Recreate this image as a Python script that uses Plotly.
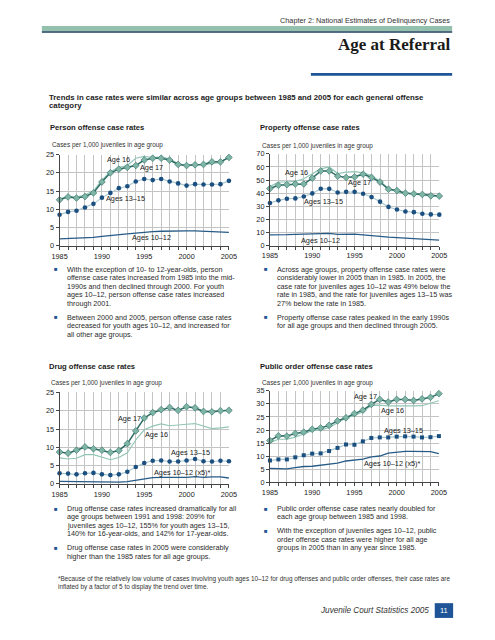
import plotly.graph_objects as go

W, H = 495, 640
years = list(range(1985, 2006))

# ---------------- data ----------------
person_17 = [12.6, 13.4, 13.1, 13.5, 14.5, 17.5, 20.0, 21.0, 21.5, 22.0, 23.5, 24.0, 24.0, 23.5, 22.3, 22.0, 22.2, 22.3, 23.0, 23.0, 24.2]
person_16 = [12.8, 13.6, 13.3, 14.0, 15.0, 18.0, 20.3, 21.5, 22.0, 24.0, 24.5, 24.2, 24.3, 23.8, 22.5, 22.0, 22.3, 22.2, 22.6, 22.8, 24.3]
person_1315 = [8.5, 9.3, 9.6, 10.5, 11.5, 13.2, 14.5, 15.8, 16.3, 17.6, 18.3, 18.0, 18.3, 17.6, 17.1, 16.5, 16.9, 16.8, 16.8, 16.9, 17.8]
person_1012 = [1.9, 1.95, 2.0, 2.1, 2.3, 2.6, 2.9, 3.1, 3.3, 3.5, 3.8, 3.9, 4.0, 4.1, 4.1, 4.1, 4.1, 4.0, 3.9, 3.9, 3.7]

property_17 = [43.5, 46.0, 46.5, 47.0, 47.0, 51.5, 57.0, 57.0, 53.0, 52.0, 52.5, 54.5, 52.0, 48.5, 43.0, 42.0, 40.0, 39.5, 39.0, 38.0, 37.8]
property_16 = [45.0, 48.5, 48.5, 49.0, 51.0, 55.0, 58.5, 60.0, 55.0, 56.0, 56.5, 55.5, 53.5, 49.0, 43.5, 41.0, 40.0, 39.5, 38.5, 38.0, 37.5]
property_1315 = [32.5, 34.5, 35.7, 36.0, 37.5, 39.8, 43.4, 43.3, 40.5, 41.0, 41.0, 39.5, 37.0, 33.5, 29.5, 27.5, 26.0, 25.5, 24.3, 23.8, 23.6]
property_1012 = [8.2, 8.1, 8.3, 8.5, 8.8, 9.1, 9.5, 9.3, 8.5, 8.8, 8.7, 8.2, 7.8, 7.0, 6.4, 6.0, 5.6, 5.2, 4.9, 4.5, 4.2]

drug_17 = [8.7, 8.4, 9.2, 10.1, 9.6, 9.2, 8.6, 9.1, 11.0, 14.5, 18.0, 19.5, 20.3, 20.9, 20.1, 21.1, 20.8, 19.8, 19.7, 20.0, 20.1]
drug_16 = [7.1, 6.8, 7.0, 8.0, 8.0, 7.3, 6.6, 7.2, 8.5, 12.0, 14.8, 15.8, 16.4, 15.9, 16.2, 16.3, 16.5, 15.8, 15.1, 15.3, 15.6]
drug_1315 = [2.9, 2.8, 2.6, 2.9, 3.0, 2.6, 2.4, 2.6, 3.3, 4.6, 5.7, 6.3, 6.4, 6.1, 6.1, 6.4, 6.8, 6.2, 6.1, 6.3, 6.2]
drug_1012x5 = [0.7, 0.65, 0.6, 0.6, 0.55, 0.5, 0.5, 0.5, 0.6, 1.0, 1.4, 1.7, 1.8, 1.8, 1.6, 1.8, 2.0, 1.8, 1.9, 1.9, 1.6]

public_17 = [16.0, 17.8, 17.7, 18.7, 19.2, 20.3, 20.8, 21.8, 23.5, 24.7, 26.3, 27.6, 29.8, 31.7, 30.7, 31.7, 31.7, 31.3, 31.9, 32.5, 33.9]
public_16 = [15.2, 16.5, 16.5, 17.3, 18.5, 19.8, 20.0, 21.0, 22.8, 24.6, 25.6, 27.0, 29.4, 29.5, 29.2, 29.2, 29.0, 29.2, 29.3, 30.2, 31.2]
public_1315 = [8.4, 8.8, 8.8, 9.6, 10.4, 11.0, 11.1, 12.0, 13.2, 14.5, 14.4, 15.7, 17.0, 17.2, 17.2, 17.5, 17.6, 17.5, 17.2, 17.3, 17.7]
public_1012x5 = [5.4, 5.4, 5.2, 5.7, 6.1, 6.2, 6.6, 7.0, 7.4, 8.2, 8.6, 8.9, 9.8, 10.1, 11.2, 11.5, 11.9, 11.9, 11.9, 11.8, 11.0]

series_names = ["Age 17", "Age 16", "Ages 13\u201315", "Ages 10\u201312"]

# ---------------- styles ----------------
FONT = "Liberation Sans, Arial, sans-serif"
TXT = "#222222"
C17 = "#2d6b65"
C17M = "#7fb5a5"
C16 = "#92c6b6"
C1315 = "#1b4f80"
C1315L = "#a5c6cf"
C1012 = "#275b87"
GRID = "#c4c4c4"
AX = "#444444"
BLUE = "#1f5596"

fig = go.Figure()

panels = [
    ("", [person_17, person_16, person_1315, person_1012], 25, 5, (53.3, 228.3), (152.7, 245.3),
     [("Age 16", 1992.0, 23.6), ("Age 17", 1995.8, 21.4), ("Ages 13\u201315", 1992.8, 13.1), ("Ages 10\u201312", 1995.8, 2.3)], "circle"),
    ("2", [property_17, property_16, property_1315, property_1012], 70, 10, (270.7, 445.7), (152.0, 245.0),
     [("Age 16", 1988.1, 55.7), ("Age 17", 1995.6, 47.9), ("Ages 13\u201315", 1991.3, 33.3), ("Ages 10\u201312", 1991.0, 3.8)], "circle"),
    ("3", [drug_17, drug_16, drug_1315, drug_1012x5], 25, 5, (53.3, 228.3), (394.0, 486.7),
     [("Age 17", 1993.2, 17.9), ("Age 16", 1996.5, 13.4), ("Ages 13\u201315", 2000.5, 8.5), ("Ages 10\u201312 (x5)*", 1999.5, 3.2)], "circle"),
    ("4", [public_17, public_16, public_1315, public_1012x5], 35, 5, (270.7, 445.3), (392.3, 485.3),
     [("Age 17", 1996.3, 32.7), ("Age 16", 1999.5, 27.3), ("Ages 13\u201315", 2000.8, 19.8), ("Ages 10\u201312 (x5)*", 1999.5, 7.4)], "square"),
]

annotations = []
layout_axes = {}
for ax, data, ymax, dt, xd, yd, labels, msym in panels:
    xr, yr = "x" + ax, "y" + ax
    s17, s16, s1315, s1012 = data
    fig.add_trace(go.Scatter(x=years, y=s16, mode="lines", line=dict(color=C16, width=1.2),
                             xaxis=xr, yaxis=yr, name=series_names[1], cliponaxis=False, showlegend=False))
    fig.add_trace(go.Scatter(x=years, y=s17, mode="lines+markers", line=dict(color=C17, width=1.5),
                             marker=dict(symbol="diamond", size=5.2, color=C17M, line=dict(color=C17, width=0.6)),
                             xaxis=xr, yaxis=yr, name=series_names[0], cliponaxis=False, showlegend=False))
    fig.add_trace(go.Scatter(x=years, y=s1315, mode="lines+markers", line=dict(color=C1315L, width=1.1),
                             marker=dict(symbol=msym, size=4.6 if msym == "circle" else 4.0, color=C1315),
                             xaxis=xr, yaxis=yr, name=series_names[2], cliponaxis=False, showlegend=False))
    fig.add_trace(go.Scatter(x=years, y=s1012, mode="lines", line=dict(color=C1012, width=1.3),
                             xaxis=xr, yaxis=yr, name=series_names[3], cliponaxis=False, showlegend=False))
    xkey = "xaxis" + ax
    ykey = "yaxis" + ax
    layout_axes[xkey] = dict(
        domain=[xd[0] / W, xd[1] / W], anchor=yr, range=[1985, 2005],
        tickvals=years, ticktext=[str(y) if y % 5 == 0 else "" for y in years],
        showgrid=True, gridcolor=GRID, gridwidth=1, showline=True, linecolor=AX, linewidth=1,
        ticks="outside", ticklen=3, tickcolor=AX, tickfont=dict(family=FONT, size=7.3, color=TXT),
        zeroline=False, fixedrange=True)
    layout_axes[ykey] = dict(
        domain=[1 - yd[1] / H, 1 - yd[0] / H], anchor=xr, range=[0, ymax], dtick=dt,
        showgrid=True, gridcolor=GRID, gridwidth=1, showline=True, linecolor=AX, linewidth=1,
        ticks="outside", ticklen=3, tickcolor=AX, tickfont=dict(family=FONT, size=7.3, color=TXT),
        zeroline=False, fixedrange=True)
    for text, lx, ly in labels:
        annotations.append(dict(text=text, x=lx, y=ly, xref=xr, yref=yr, showarrow=False,
                                xanchor="center", yanchor="middle",
                                font=dict(family=FONT, size=7.3, color=TXT)))


def t(px, py, s, size=7.5, bold=False, anchor="left", color=TXT, family=FONT, italic=False):
    if bold:
        s = "<b>" + s + "</b>"
    if italic:
        s = "<i>" + s + "</i>"
    annotations.append(dict(text=s, x=px / W, y=1 - py / H, xref="paper", yref="paper",
                            showarrow=False, xanchor=anchor, yanchor="middle",
                            font=dict(family=family, size=size, color=color)))


# header
t(459, 16.7, "Chapter 2: National Estimates of Delinquency Cases", size=7.3, anchor="right", color="#333333")
t(459.5, 41.5, "Age at Referral", size=17, bold=True, anchor="right",
  family="Liberation Serif, Times New Roman, serif", color="#1a1a1a")
t(40.5, 95.0, "Trends in case rates were similar across age groups between 1985 and 2005 for each general offense",
  size=7.8, bold=True)
t(40.5, 102.8, "category", size=7.8, bold=True)

# panel titles
t(41.5, 125.7, "Person offense case rates", size=7.6, bold=True)
t(258.3, 125.7, "Property offense case rates", size=7.6, bold=True)
t(40.7, 367.3, "Drug offense case rates", size=7.6, bold=True)
t(258.3, 367.3, "Public order offense case rates", size=7.6, bold=True)
for px, py in [(43.3, 143.5), (260, 144.3), (42.7, 384.3), (260, 384.3)]:
    t(px, py, "Cases per 1,000 juveniles in age group", size=6.4, color="#333333")

# bullet paragraphs
LS = 8.6
left_top = [
    (269.0, ["With the exception of 10- to 12-year-olds, person",
             "offense case rates increased from 1985 into the mid-",
             "1990s and then declined through 2000. For youth",
             "ages 10\u201312, person offense case rates increased",
             "through 2001."]),
    (317.7, ["Between 2000 and 2005, person offense case rates",
             "decreased for youth ages 10\u201312, and increased for",
             "all other age groups."]),
]
right_top = [
    (269.0, ["Across age groups, property offense case rates were",
             "considerably lower in 2005 than in 1985. In 2005, the",
             "case rate for juveniles ages 10\u201312 was 49% below the",
             "rate in 1985, and the rate for juveniles ages 13\u201315 was",
             "27% below the rate in 1985."]),
    (317.7, ["Property offense case rates peaked in the early 1990s",
             "for all age groups and then declined through 2005."]),
]
left_bot = [
    (511.7, ["Drug offense case rates increased dramatically for all",
             "age groups between 1991 and 1998: 209% for",
             "juveniles ages 10\u201312, 155% for youth ages 13\u201315,",
             "140% for 16-year-olds, and 142% for 17-year-olds."]),
    (551.7, ["Drug offense case rates in 2005 were considerably",
             "higher than the 1985 rates for all age groups."]),
]
right_bot = [
    (511.7, ["Public order offense case rates nearly doubled for",
             "each age group between 1985 and 1998."]),
    (534.3, ["With the exception of juveniles ages 10\u201312, public",
             "order offense case rates were higher for all age",
             "groups in 2005 than in any year since 1985."]),
]
for bx, tx, paras in [(49.8, 59.3, left_top), (267.0, 276.0, right_top),
                      (49.8, 59.3, left_bot), (267.0, 276.0, right_bot)]:
    for y0, lines in paras:
        t(bx, y0, "\u25a0", size=6, anchor="center", color=BLUE)
        for i, line in enumerate(lines):
            t(tx, y0 + i * LS, line, size=7.2, color="#2a2a2a")

# footnote
t(49.3, 583.7, "*Because of the relatively low volume of cases involving youth ages 10\u201312 for drug offenses and public order offenses, their case rates are",
  size=6.4, color="#333333")
t(49.3, 590.9, "inflated by a factor of 5 to display the trend over time.", size=6.4, color="#333333")

# footer
t(436.7, 615.0, "Juvenile Court Statistics 2005", size=8.2, italic=True, anchor="right", color="#333333")
t(450.5, 615.0, "11", size=7.5, anchor="center", color="white")

shapes = [
    dict(type="rect", xref="paper", yref="paper", x0=35 / W, x1=459 / W, y0=1 - 27.7 / H, y1=1 - 22.2 / H,
         fillcolor="#93c1ad", line=dict(width=0), layer="below"),
    dict(type="rect", xref="paper", yref="paper", x0=35 / W, x1=459 / W, y0=1 - 29.2 / H, y1=1 - 27.7 / H,
         fillcolor="#1d3f5e", line=dict(width=0), layer="below"),
    dict(type="rect", xref="paper", yref="paper", x0=313 / W, x1=459 / W, y0=1 - 72.8 / H, y1=1 - 70.0 / H,
         fillcolor=BLUE, line=dict(width=0), layer="below"),
    dict(type="rect", xref="paper", yref="paper", x0=441 / W, x1=460 / W, y0=1 - 622.7 / H, y1=1 - 607.7 / H,
         fillcolor=BLUE, line=dict(width=0), layer="below"),
]

fig.update_layout(
    width=W, height=H, autosize=False,
    margin=dict(l=0, r=0, t=0, b=0),
    paper_bgcolor="white", plot_bgcolor="white",
    showlegend=False,
    annotations=annotations, shapes=shapes,
    font=dict(family=FONT, color=TXT),
    **layout_axes,
)

fig.write_html("out.html", config={"displayModeBar": False},
               post_script="document.body.style.margin='0';document.body.style.padding='0';document.body.style.overflow='hidden';")
